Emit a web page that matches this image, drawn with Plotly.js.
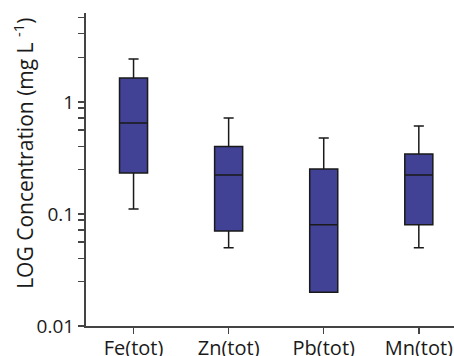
<!DOCTYPE html>
<html>
<head>
<meta charset="utf-8">
<script src="https://cdn.plot.ly/plotly-3.0.1.min.js"></script>
<style>html,body{margin:0;padding:0;background:#fff;}#chart{width:454px;height:356px;}</style>
</head>
<body>
<div id="chart"></div>
<script>
// Data
const categories = ['Fe(tot)', 'Zn(tot)', 'Pb(tot)', 'Mn(tot)'];
const lowerWhisker = [0.111, 0.050, 0.020, 0.050];
const q1Values     = [0.232, 0.0705, 0.020, 0.080];
const medianValues = [0.65, 0.223, 0.080, 0.223];
const q3Values     = [1.64, 0.40, 0.252, 0.343];
const upperWhisker = [2.42, 0.72, 0.477, 0.61];

const yTickVals = [0.01, 0.1, 1];
const yTickText = ['0.01', '0.1', '1'];
const yMinorTickVals = [0.025, 0.04, 0.056, 0.072, 0.088, 0.25, 0.4, 0.56, 0.72, 0.88, 2.5, 4.1, 5.7];
const yTitle = 'LOG Concentration (mg L <sup>-1</sup>)';

const trace = {
  type: 'box',
  x: categories,
  q1: q1Values,
  median: medianValues,
  q3: q3Values,
  lowerfence: lowerWhisker,
  upperfence: upperWhisker,
  boxpoints: false,
  width: 0.295,
  whiskerwidth: 0.36,
  fillcolor: '#414196',
  line: {color: '#1a1a1a', width: 1.5},
  hoverinfo: 'skip'
};

const fam = 'Open Sans, sans-serif';

const layout = {
  width: 454,
  height: 356,
  margin: {l: 86, r: 0, t: 13, b: 30},
  paper_bgcolor: '#fff',
  plot_bgcolor: '#fff',
  showlegend: false,
  font: {family: fam, color: '#1a1a1a'},
  xaxis: {
    type: 'category',
    range: [-0.5, 3.37],
    showline: true,
    linecolor: '#444',
    linewidth: 2,
    ticks: 'outside',
    ticklen: 6,
    tickwidth: 1.5,
    tickcolor: '#444',
    showgrid: false,
    zeroline: false,
    ticklabelstandoff: -3,
    tickfont: {family: fam, size: 20, color: '#1a1a1a'}
  },
  yaxis: {
    type: 'log',
    range: [Math.log10(0.01), Math.log10(6.23)],
    tickvals: yTickVals,
    ticktext: yTickText,
    showline: true,
    linecolor: '#444',
    linewidth: 2,
    ticks: 'outside',
    ticklen: 6,
    tickwidth: 1.5,
    tickcolor: '#444',
    showgrid: false,
    zeroline: false,
    minor: {tickvals: yMinorTickVals, ticks: 'outside', ticklen: 6, tickwidth: 1.5, tickcolor: '#444', showgrid: false},
    tickfont: {family: fam, size: 19, color: '#1a1a1a'}
  },
  annotations: [{
    text: yTitle,
    xref: 'paper', yref: 'paper',
    x: 0, y: 0.55,
    xanchor: 'center', yanchor: 'middle',
    xshift: -62,
    textangle: -90,
    showarrow: false,
    font: {family: fam, size: 21, color: '#1a1a1a'}
  }]
};

Plotly.newPlot('chart', [trace], layout, {staticPlot: true, displayModeBar: false});
</script>
</body>
</html>
